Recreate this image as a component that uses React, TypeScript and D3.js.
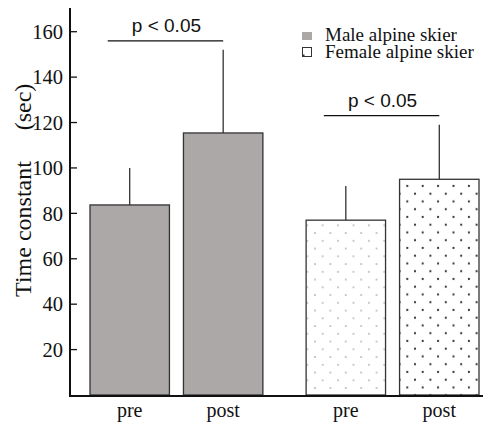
import React from "react";
import * as d3 from "d3";

const groups = ["Male alpine skier", "Female alpine skier"];
const phases = ["pre", "post"];
const maleMeans = [83.7, 115.4];
const maleErrTop = [100, 152];
const femaleMeans = [77, 95];
const femaleErrTop = [92, 119];
const yTicks = [20, 40, 60, 80, 100, 120, 140, 160];
const sigLabels = ["p < 0.05", "p < 0.05"];
const sigHeights = [156, 123];

const W = 485;
const H = 422;

export default function App() {
  const y = d3.scaleLinear().domain([0, 170]).range([395, 9]);
  const xg = d3.scaleBand().domain(groups).range([90, 479]).paddingInner(0.2).paddingOuter(0);
  const xi = d3.scaleBand().domain(phases).range([0, xg.bandwidth()]).paddingInner(0.15).paddingOuter(0);

  const data = [
    { g: groups[0], means: maleMeans, tops: maleErrTop },
    { g: groups[1], means: femaleMeans, tops: femaleErrTop },
  ];
  const fills = [
    ["#aca8a8", "#aca8a8"],
    ["url(#dotsLight)", "url(#dotsDark)"],
  ];
  const serif = "'Liberation Serif', 'Times New Roman', serif";
  const sans = "'Liberation Sans', Arial, sans-serif";

  return (
    <svg width={W} height={H} style={{ position: "absolute", left: 0, top: 0, background: "#fff" }}>
      <defs>
        <pattern id="dotsLight" patternUnits="userSpaceOnUse" width={15.4} height={15.5} x={307.3} y={225.3}>
          <rect width={15.4} height={15.5} fill="#fff" />
          <circle cx={0} cy={0} r={1} fill="#b8b8b8" />
          <circle cx={15.4} cy={0} r={1} fill="#b8b8b8" />
          <circle cx={0} cy={15.5} r={1} fill="#b8b8b8" />
          <circle cx={15.4} cy={15.5} r={1} fill="#b8b8b8" />
          <circle cx={7.7} cy={7.75} r={1} fill="#b8b8b8" />
        </pattern>
        <pattern id="dotsDark" patternUnits="userSpaceOnUse" width={15.4} height={15.5} x={407.3} y={186}>
          <rect width={15.4} height={15.5} fill="#fff" />
          <circle cx={0} cy={0} r={1.1} fill="#333" />
          <circle cx={15.4} cy={0} r={1.1} fill="#333" />
          <circle cx={0} cy={15.5} r={1.1} fill="#333" />
          <circle cx={15.4} cy={15.5} r={1.1} fill="#333" />
          <circle cx={7.7} cy={7.75} r={1.1} fill="#333" />
        </pattern>
      </defs>

      {data.map((d, gi) =>
        phases.map((p, pi) => {
          const x0 = (xg(d.g) as number) + (xi(p) as number);
          const bw = xi.bandwidth();
          const cx = x0 + bw / 2;
          return (
            <g key={d.g + p}>
              <line x1={cx} x2={cx} y1={y(d.means[pi])} y2={y(d.tops[pi])} stroke="#222" strokeWidth={1.2} />
              <rect x={x0} y={y(d.means[pi])} width={bw} height={y(0) - y(d.means[pi])} fill={fills[gi][pi]} stroke="#333" strokeWidth={1.3} />
              <text x={cx} y={417} textAnchor="middle" fontFamily={serif} fontSize={20} fill="#111">{p}</text>
            </g>
          );
        })
      )}

      {/* significance brackets */}
      {data.map((d, gi) => {
        const x0 = (xg(d.g) as number) + (xi("pre") as number) + xi.bandwidth() / 2 - 22;
        const x1 = (xg(d.g) as number) + (xi("post") as number) + xi.bandwidth() / 2;
        const yy = y(sigHeights[gi]);
        return (
          <g key={"sig" + gi}>
            <line x1={x0} x2={x1} y1={yy} y2={yy} stroke="#111" strokeWidth={1.3} />
            <text x={(x0 + x1) / 2 + 1} y={yy - 9} textAnchor="middle" fontFamily={sans} fontSize={19} fill="#111">{sigLabels[gi]}</text>
          </g>
        );
      })}

      {/* y axis */}
      <line x1={70} x2={70} y1={8} y2={397} stroke="#111" strokeWidth={2} />
      {yTicks.map((t) => (
        <g key={t}>
          <line x1={70} x2={77} y1={y(t)} y2={y(t)} stroke="#111" strokeWidth={1.3} />
          <text x={63} y={y(t)} dy="0.35em" textAnchor="end" fontFamily={serif} fontSize={20.5} fill="#111">{t}</text>
        </g>
      ))}
      {/* x axis */}
      <line x1={69} x2={483} y1={396} y2={396} stroke="#111" strokeWidth={2} />

      {/* y label */}
      <text transform={`translate(31, 229) rotate(-90)`} textAnchor="middle" fontFamily={serif} fontSize={24} fill="#111">Time constant</text>
      <text transform={`translate(31, 107) rotate(-90)`} textAnchor="middle" fontFamily={serif} fontSize={24} fill="#111">(sec)</text>

      {/* legend */}
      <rect x={302} y={32} width={10} height={8} fill="#aca8a8" />
      <text x={325} y={40.5} fontFamily={serif} fontSize={19} fill="#111">{groups[0]}</text>
      <rect x={302.5} y={47.5} width={9} height={9} fill="#fff" stroke="#333" strokeWidth={1} />
      <rect x={302.5} y={54.5} width={2} height={2} fill="#333" />
      <text x={325} y={57.5} fontFamily={serif} fontSize={19} fill="#111">{groups[1]}</text>
    </svg>
  );
}
